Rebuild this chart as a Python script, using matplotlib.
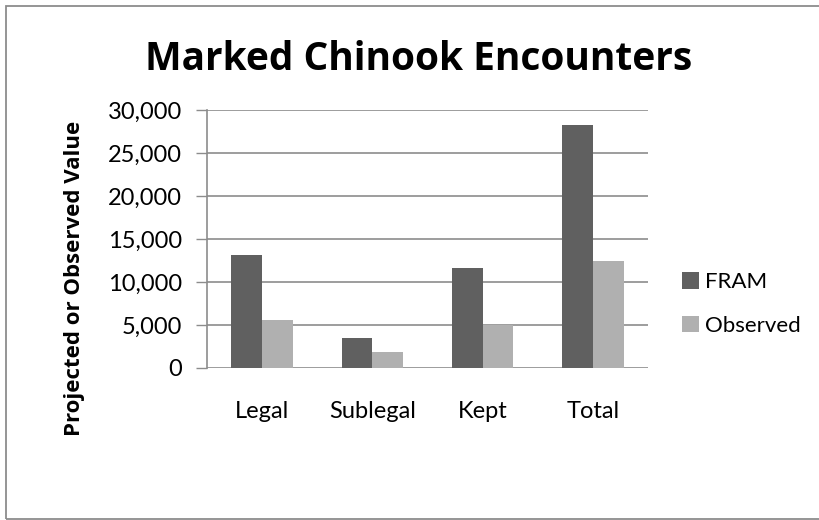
import matplotlib
matplotlib.use("Agg")
import matplotlib.pyplot as plt
import numpy as np
from matplotlib.patches import Rectangle

categories = ["Legal", "Sublegal", "Kept", "Total"]
fram = [13100, 3500, 11600, 28300]
observed = [5600, 1900, 5000, 12500]
series_names = ["FRAM", "Observed"]
yticks = [0, 5000, 10000, 15000, 20000, 25000, 30000]

W, H = 819, 520
fig = plt.figure(figsize=(W/100, H/100), dpi=100)
fig.patch.set_facecolor("white")

lbl = ["Lato", "DejaVu Sans"]

# chart border
fig.add_artist(Rectangle((6/W, 1-519/H), 1.2, (519-6)/H, transform=fig.transFigure,
                         fill=False, edgecolor="#8c8c8c", linewidth=1.3))

ax = fig.add_axes([207/W, 1-368/H, (648-207)/W, (368-110)/H])
x = np.arange(len(categories))
bw = 0.28
ax.bar(x - bw/2, fram, bw, color="#606060", label=series_names[0], zorder=3)
ax.bar(x + bw/2, observed, bw, color="#b0b0b0", label=series_names[1], zorder=3)

ax.set_xlim(-0.5, len(categories) - 0.5)
ax.set_ylim(0, 30000)
ax.set_yticks(yticks)
ax.set_yticklabels([f"{v:,}" for v in yticks], fontfamily=lbl, fontsize=17)
ax.set_xticks(x)
ax.set_xticklabels(categories, fontfamily=lbl, fontsize=17)
ax.tick_params(axis="x", length=0, pad=24)
ax.tick_params(axis="y", length=8, width=1, color="#8c8c8c", pad=10)
ax.yaxis.grid(True, color="#8c8c8c", linewidth=1.2, zorder=0)
ax.set_axisbelow(True)
for s in ["top", "right", "bottom"]:
    ax.spines[s].set_visible(False)
ax.spines["left"].set_color("#8c8c8c")
ax.spines["left"].set_linewidth(1.2)

fig.text(419/W, 1-70/H, "Marked Chinook Encounters", ha="center", va="baseline",
         fontsize=28, fontweight="bold", fontfamily=["Open Sans", "DejaVu Sans"])
fig.text(75/W, 1-278/H, "Projected or Observed Value", ha="center", va="center",
         rotation=90, fontsize=16, fontweight="bold", fontfamily=["Open Sans", "DejaVu Sans"])

leg = ax.legend(loc="center left", bbox_to_anchor=(662/W, 1-304/H), bbox_transform=fig.transFigure,
                frameon=False, prop={"family": lbl, "size": 16},
                handlelength=0.75, handleheight=0.75, handletextpad=0.3, labelspacing=1.05)

fig.savefig("out.png", dpi=100)
